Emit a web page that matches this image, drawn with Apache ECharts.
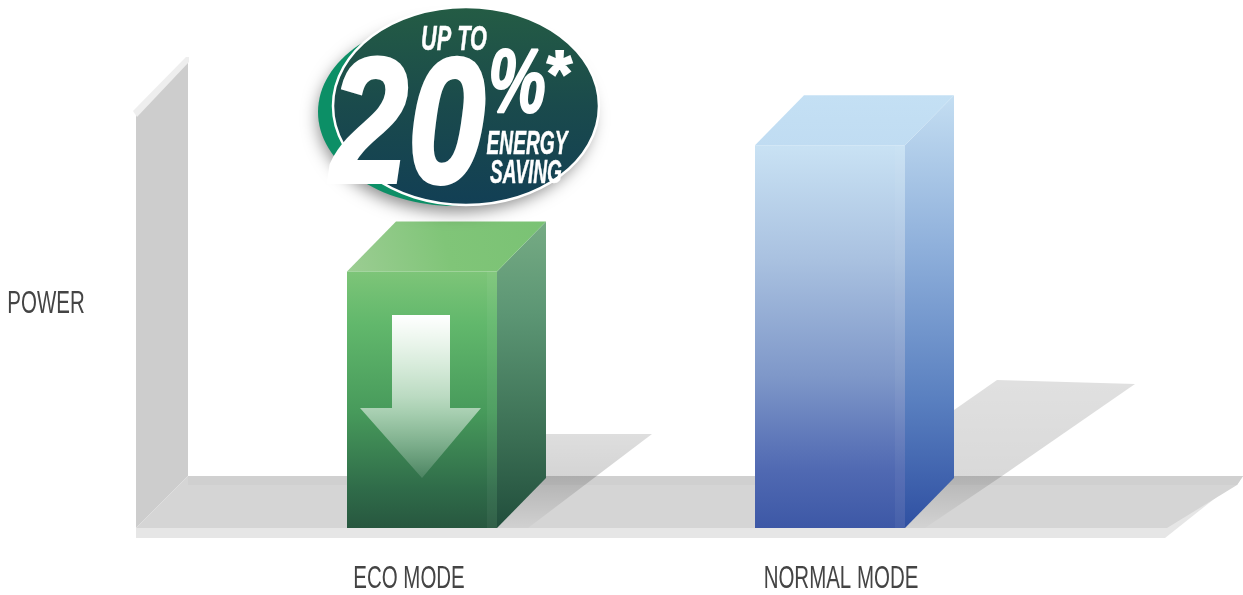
<!DOCTYPE html>
<html>
	<head>
		<meta charset="UTF-8">
		<title>Power</title>
		<style>
			html, body { margin: 0; padding: 0; background: #fff; }
			#main { width: 1243px; height: 595px; }
		</style>
	</head>
	<body>
		<div id="main"></div>
		<script src="https://cdn.jsdelivr.net/npm/echarts@6/dist/echarts.min.js"></script>
		<script type="text/javascript">
			// chart data
			var categories = ['ECO MODE', 'NORMAL MODE'];
			var powerValues = [69, 103];
			var axisName = 'POWER';

			var sans = '"Liberation Sans", sans-serif';

			function vGrad(stops) {
				return {
					type: 'linear', x: 0, y: 0, x2: 0, y2: 1,
					colorStops: stops.map(function (s) { return { offset: s[0], color: s[1] }; })
				};
			}

			// colours of each bar: front, side, top
			var barFaces = [
				{
					front: vGrad([[0, '#7dc578'], [0.2, '#62b86c'], [0.55, '#479a5b'], [0.85, '#2f6b49'], [1, '#27573f']]),
					side: vGrad([[0, '#76ab84'], [0.3, '#5c9674'], [0.7, '#3b6f54'], [1, '#214e3c']]),
					top: { type: 'linear', x: 0, y: 1, x2: 1, y2: 0, colorStops: [{ offset: 0, color: '#9ccd93' }, { offset: 0.5, color: '#80c578' }, { offset: 1, color: '#7ac274' }] }
				},
				{
					front: vGrad([[0, '#c9e2f4'], [0.3, '#a9c1e0'], [0.6, '#7f98c9'], [0.85, '#5069b2'], [1, '#3d58a6']]),
					side: vGrad([[0, '#c4def2'], [0.35, '#8fb0db'], [0.7, '#5a80c0'], [1, '#2f50a2']]),
					top: vGrad([[0, '#c4e0f4'], [1, '#c0dcf2']])
				}
			];

			var barWidth = 150, depthX = 49, depthY = 50;

			function renderBox(params, api) {
				var top = api.coord([api.value(0), api.value(1)]);
				var base = api.coord([api.value(0), 0]);
				var f = barFaces[params.dataIndex];
				var l = top[0] - barWidth / 2, r = top[0] + barWidth / 2;
				return {
					type: 'group',
					children: [
						{ type: 'polygon', shape: { points: [[r, top[1]], [r + depthX, top[1] - depthY], [r + depthX, base[1] - depthY], [r, base[1]]] }, style: { fill: f.side } },
						{ type: 'polygon', shape: { points: [[l, top[1]], [l + depthX, top[1] - depthY], [r + depthX, top[1] - depthY], [r, top[1]]] }, style: { fill: f.top } },
						{ type: 'rect', shape: { x: l, y: top[1], width: barWidth, height: base[1] - top[1] }, style: { fill: f.front } },
						{ type: 'rect', shape: { x: r - 10, y: top[1], width: 10, height: base[1] - top[1] }, style: { fill: 'rgba(255,255,255,0.05)' } }
					]
				};
			}

			// no condensed font is installed, so the text is squeezed with scaleX
			function plainText(text, x, y) {
				return {
					type: 'text', x: x, y: y, z: 20, scaleX: 0.64,
					style: { text: text, fill: '#444', textAlign: 'center', textVerticalAlign: 'middle', font: '32px ' + sans }
				};
			}

			function badgeText(text, x, y, size, sx) {
				return {
					type: 'text', x: x, y: y, z: 60, scaleX: sx || 1,
					style: {
						text: text, fill: '#fff', stroke: '#fff', lineWidth: size > 100 ? 4 : (size > 60 ? 2 : 0.5), textAlign: 'center', textVerticalAlign: 'middle',
						font: 'italic bold ' + size + 'px ' + sans,
						shadowBlur: 8, shadowColor: 'rgba(0,0,0,0.35)', shadowOffsetX: 3, shadowOffsetY: 4
					}
				};
			}

			var myChart = echarts.init(document.getElementById('main'));
			var option = {
				animation: false,
				backgroundColor: '#fff',
				grid: { left: 218, right: 209, top: 82, bottom: 67, outerBoundsMode: 'none' },
				xAxis: {
					type: 'category',
					data: categories,
					axisLine: { show: false },
					axisTick: { show: false },
					axisLabel: { show: false }
				},
				yAxis: {
					type: 'value',
					min: 0,
					max: 120,
					axisLine: { show: false },
					axisTick: { show: false },
					axisLabel: { show: false },
					splitLine: { show: false }
				},
				series: [{
					type: 'custom',
					renderItem: renderBox,
					encode: { x: 0, y: 1 },
					data: categories.map(function (c, i) { return [i, powerValues[i]]; }),
					z: 5
				}],
				graphic: [
					// wall and floor
					{ type: 'polygon', z: -10, shape: { points: [[136, 113], [188, 58], [188, 476], [136, 528]] }, style: { fill: '#cdcdcd' } },
					{ type: 'polygon', z: -9, shape: { points: [[133, 111], [186, 57], [189, 57], [189, 62], [137, 117]] }, style: { fill: '#eeeeee' } },
					{ type: 'polygon', z: -10, shape: { points: [[136, 528], [188, 476], [1243, 476], [1165, 538], [136, 538]] }, style: { fill: '#e6e6e6' } },
					{ type: 'polygon', z: -9, shape: { points: [[136, 528], [188, 476], [1243, 476], [1237, 485], [1167, 528]] }, style: { fill: '#d5d5d5' } },
					{ type: 'polygon', z: -8, shape: { points: [[188, 476], [1243, 476], [1237, 485], [188, 485]] }, style: { fill: '#d0d0d0' } },
					// shadows behind the bars
					{ type: 'polygon', z: -5, shape: { points: [[540, 434], [652, 434], [528, 528], [497, 528]] }, style: { fill: {
						type: 'linear', x: 0, y: 0, x2: 0, y2: 1, colorStops: [{ offset: 0, color: 'rgba(0,0,0,0.13)' }, { offset: 0.45, color: 'rgba(0,0,0,0.17)' }, { offset: 1, color: 'rgba(0,0,0,0.02)' }]
					} } },
					{ type: 'polygon', z: -5, shape: { points: [[954, 410], [997, 380], [1135, 384], [1002, 476], [925, 528], [905, 528]] }, style: { fill: {
						type: 'linear', x: 0, y: 0, x2: 0, y2: 1, colorStops: [{ offset: 0, color: 'rgba(0,0,0,0.12)' }, { offset: 0.65, color: 'rgba(0,0,0,0.15)' }, { offset: 1, color: 'rgba(0,0,0,0.01)' }]
					} } },
					// arrow on the eco bar
					{ type: 'polygon', z: 50, shape: { points: [[392, 315], [450, 315], [450, 408], [481, 408], [422, 478], [360, 408], [392, 408]] }, style: { fill: vGrad([[0, 'rgba(255,255,255,1)'], [0.5, 'rgba(255,255,255,0.62)'], [1, 'rgba(255,255,255,0.12)']]) } },
					// axis texts
					plainText(axisName, 46, 304),
					plainText(categories[0], 409, 579),
					plainText(categories[1], 841, 579),
					// badge
					{ type: 'ellipse', z: 55, shape: { cx: 455, cy: 112, rx: 137, ry: 94 }, style: { fill: '#0c8f66', shadowBlur: 16, shadowColor: 'rgba(0,0,0,0.45)', shadowOffsetY: 6 } },
					{ type: 'ellipse', z: 56, shape: { cx: 466, cy: 106, rx: 133, ry: 99 }, style: { fill: vGrad([[0, '#245c44'], [0.5, '#1a4a4c'], [1, '#123f55']]), stroke: '#fff', lineWidth: 2.5 } },
					badgeText('UP TO', 454, 40, 35, 0.62),
					badgeText('20', 408, 133, 178, 0.78),
					badgeText('%', 517, 87, 90, 0.72),
					badgeText('*', 557, 78, 64),
					badgeText('ENERGY', 527, 145, 33, 0.58),
					badgeText('SAVING', 526, 174, 33, 0.58)
				]
			};
			myChart.setOption(option);
		</script>
	</body>
</html>
